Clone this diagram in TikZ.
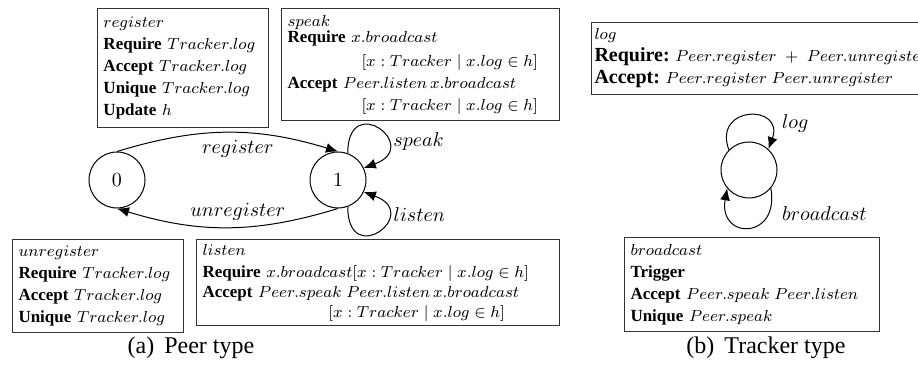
\documentclass[tikz,border=0pt]{standalone}
\usepackage{fontspec}
\setmainfont{Liberation Serif}
\usetikzlibrary{arrows.meta}
\relpenalty=10000
\binoppenalty=10000
\newcommand{\bigkw}[1]{{\fontsize{10}{11.5}\selectfont\textbf{#1}}}

\begin{document}
\begin{tikzpicture}[x=0.5pt, y=-0.5pt,
	state/.style={draw, circle, minimum size=28pt, inner sep=0pt, line width=0.5pt, font=\fontsize{10.3}{12}\selectfont},
	infobox/.style={draw=black!80, line width=0.5pt, anchor=north west, align=left, inner xsep=3pt, inner ysep=0pt, font=\fontsize{8.5}{11}\selectfont},
	trans/.style={draw, -{Latex[length=6pt, width=5pt]}, line width=0.5pt},
	lab/.style={font=\fontsize{10.3}{12}\selectfont},
	capt/.style={font=\fontsize{12}{14}\selectfont}]
		\useasboundingbox (0,0) rectangle (918,368);
		\node[state] (v0) at (117,180) {$0$};
		\node[state] (v1) at (338,180) {$1$};
		\node[state] (v2) at (749,170) {};
		\node[infobox, text width=79.5pt, minimum height=59.5pt] (b1) at (97,8) {$register$\\ \textbf{Require}~$Tracker.log$\\ \textbf{Accept}~$Tracker.log$\\ \textbf{Unique}~$Tracker.log$\\ \textbf{Update}~$h$};
		\node[infobox, text width=133pt, minimum height=56pt] (b2) at (281,8) {$speak$\\[-3pt] \textbf{Require}~$x.broadcast$\\[1pt] \hspace*{37pt}$[x : Tracker \mid x.log \in h]$\\ \textbf{Accept}~$Peer.listen\,x.broadcast$\\ \hspace*{37pt}$[x : Tracker \mid x.log \in h]$};
		\node[infobox, text width=79.5pt, minimum height=46.5pt] (b3) at (12,239) {$unregister$\\ \textbf{Require}~$Tracker.log$\\ \textbf{Accept}~$Tracker.log$\\ \textbf{Unique}~$Tracker.log$};
		\node[infobox, text width=175.5pt, minimum height=43pt] (b4) at (196,239) {$listen$\\ \textbf{Require}~$x.broadcast[x : Tracker \mid x.log \in h]$\\[-1pt] \textbf{Accept}~$Peer.speak\;Peer.listen\,x.broadcast$\\[-1pt] \hspace*{63pt}$[x : Tracker \mid x.log \in h]$};
		\node[infobox, text width=172pt, minimum height=36pt, inner xsep=1.5pt] (b5) at (591,22) {$log$\\ \bigkw{Require:}~$Peer.register\;+\;Peer.unregister$\\ \bigkw{Accept:}~$Peer.register\;Peer.unregister$};
		\node[infobox, text width=121.5pt, minimum height=47pt] (b6) at (624,237) {$broadcast$\\ \textbf{Trigger}\\ \textbf{Accept}~$Peer.speak\;Peer.listen$\\ \textbf{Unique}~$Peer.speak$};
		\path (v0.north) edge [trans, out=17, in=163] node[lab, below, pos=0.55] {$register$} (v1.north);
		\path (v1.south) edge [trans, out=-163, in=-17] node[lab, above, pos=0.45] {$unregister$} (v0.south);
		\path (v1.70) edge [trans, out=90, in=20, looseness=7.4] node[lab, right, pos=0.68] {$speak$} (v1.25);
		\path (v1.-70) edge [trans, out=-90, in=-20, looseness=7.4] node[lab, right, pos=0.72] {$listen$} (v1.-25);
		\path (v2.135) edge [trans, out=110, in=70, looseness=3.1] node[lab, right, pos=0.75, xshift=4pt] {$log$} (v2.47);
		\path (v2.-40) edge [trans, out=-80, in=-100, looseness=3.1] node[lab, right, pos=0.2, xshift=3pt] {$broadcast$} (v2.-140);
		\node[capt] (c1) at (191,348) {(a)\, Peer type};
		\node[capt] (c2) at (766,348) {(b)\, Tracker type};
\end{tikzpicture}
\end{document}
